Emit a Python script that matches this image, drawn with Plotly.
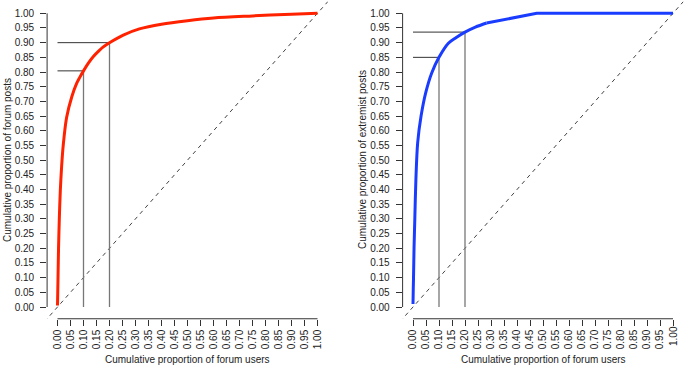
import plotly.graph_objects as go

# ---- data ----
users_forum = [0, 0.001, 0.002, 0.004, 0.007, 0.011, 0.016, 0.022, 0.035, 0.055, 0.074, 0.085,
               0.1, 0.12, 0.138, 0.16, 0.175, 0.2, 0.253, 0.315, 0.4, 0.5, 0.6, 0.75, 0.9, 1.0]
posts_forum = [0.005, 0.05, 0.10, 0.20, 0.30, 0.40, 0.48, 0.55, 0.645, 0.716, 0.762, 0.781,
               0.804, 0.832, 0.853, 0.873, 0.885, 0.90, 0.926, 0.947, 0.963, 0.975, 0.984,
               0.991, 0.997, 1.0]

users_extremist = [0, 0.001, 0.002, 0.004, 0.007, 0.011, 0.018, 0.031, 0.049, 0.072,
                   0.1, 0.136, 0.165, 0.2, 0.24, 0.283, 0.476, 1.0]
posts_extremist = [0.01, 0.06, 0.10, 0.20, 0.30, 0.43, 0.56, 0.65, 0.73, 0.797,
                   0.85, 0.898, 0.917, 0.936, 0.953, 0.967, 1.0, 1.0]
extremist_kink = 15  # index where the extremist curve turns into straight segments

ref_users = [0.1, 0.2]
ref_forum = [0.804, 0.90]
ref_extremist = [0.85, 0.936]

tick_vals = [round(i * 0.05, 2) for i in range(21)]
tick_text = [f"{v:.2f}" for v in tick_vals]

x_title = "Cumulative proportion of forum users"
y_title_left = "Cumulative proportion of forum posts"
y_title_right = "Cumulative proportion of extremist posts"

# ---- figure ----
W, H = 685, 366
FONT = "Liberation Sans, Arial, Helvetica, sans-serif"
TXT = "#222"

fig = go.Figure()

panels = [
    ("x", "y", [(users_forum, posts_forum, "spline")], ref_forum, "#ff2200"),
    ("x2", "y2", [(users_extremist[:extremist_kink + 1], posts_extremist[:extremist_kink + 1], "spline"),
                  (users_extremist[extremist_kink:], posts_extremist[extremist_kink:], "linear")],
     ref_extremist, "#1a3cff"),
]

for xa, ya, pieces, refy, col in panels:
    fig.add_trace(go.Scatter(x=[-0.05, 1.05], y=[-0.05, 1.05], mode="lines",
                             line=dict(color="#444", width=1, dash="4px,4px"),
                             xaxis=xa, yaxis=ya, hoverinfo="skip"))
    for rx, ry in zip(ref_users, refy):
        fig.add_trace(go.Scatter(x=[rx, rx], y=[0, ry], mode="lines",
                                 line=dict(color="#777", width=1.3),
                                 xaxis=xa, yaxis=ya, hoverinfo="skip"))
        fig.add_trace(go.Scatter(x=[0, rx], y=[ry, ry], mode="lines",
                                 line=dict(color="#333", width=1),
                                 xaxis=xa, yaxis=ya, hoverinfo="skip"))
    for ux, py, shape in pieces:
        ln = dict(color=col, width=3, shape=shape)
        if shape == "spline":
            ln["smoothing"] = 0.9
        fig.add_trace(go.Scatter(x=ux, y=py, mode="lines", line=ln,
                                 xaxis=xa, yaxis=ya, hoverinfo="skip"))

ydom = [(366 - 318.75) / 366, (366 - 1.55) / 366]
xdom1 = [47.1 / W, 327.9 / W]
xdom2 = [402.6 / W, 683.4 / W]

axis_common = dict(range=[-0.04, 1.04], tickmode="array", tickvals=tick_vals,
                   ticks="outside", ticklen=6, tickwidth=1,
                   tickcolor="#333", showline=False, showgrid=False, zeroline=False,
                   automargin=False, ticklabeloverflow="allow",
                   tickfont=dict(family=FONT, size=10, color=TXT), fixedrange=True)

# the last label of the right x axis sits at the page edge; it is drawn as an annotation
tick_text_x2 = tick_text[:-1] + [""]

fig.update_layout(
    width=W, height=H, margin=dict(l=0, r=0, t=0, b=0, autoexpand=False),
    paper_bgcolor="white", plot_bgcolor="white", showlegend=False,
    xaxis=dict(domain=xdom1, anchor="y", tickangle=-90, ticktext=tick_text, **axis_common),
    yaxis=dict(domain=ydom, anchor="x", ticklabelstandoff=4, ticktext=tick_text, **axis_common),
    xaxis2=dict(domain=xdom2, anchor="y2", tickangle=-90, ticktext=tick_text_x2, **axis_common),
    yaxis2=dict(domain=ydom, anchor="x2", ticklabelstandoff=4, ticktext=tick_text, **axis_common),
)

shapes = []
for xd, xa, ya in [(xdom1, "x", "y"), (xdom2, "x2", "y2")]:
    shapes.append(dict(type="line", xref="paper", yref=ya, x0=xd[0], x1=xd[0], y0=0, y1=1,
                       line=dict(color="#333", width=1)))
    shapes.append(dict(type="line", xref=xa, yref="paper", x0=0, x1=1, y0=ydom[0], y1=ydom[0],
                       line=dict(color="#333", width=1)))
fig.update_layout(shapes=shapes)

annos = [
    dict(text=x_title, x=(57.5 + 317.5) / 2 / W, y=(366 - 359) / 366),
    dict(text=x_title, x=(413 + 673) / 2 / W, y=(366 - 359) / 366),
    dict(text=y_title_left, x=7 / W, y=(366 - 160) / 366, textangle=-90),
    dict(text=y_title_right, x=362 / W, y=(366 - 160) / 366, textangle=-90),
]
for a in annos:
    a.update(xref="paper", yref="paper", showarrow=False, xanchor="center", yanchor="middle",
             font=dict(family=FONT, size=10, color=TXT))
annos.append(dict(text=tick_text[-1], xref="x2", yref="paper", x=tick_vals[-1],
                  y=(366 - 325) / 366, xanchor="center", yanchor="top", textangle=-90,
                  showarrow=False, borderpad=0, font=dict(family=FONT, size=10, color=TXT)))
fig.update_layout(annotations=annos)

fig.write_html(
    "out.html",
    config={"displayModeBar": False},
    post_script="document.body.style.margin='0';document.body.style.padding='0';",
)
